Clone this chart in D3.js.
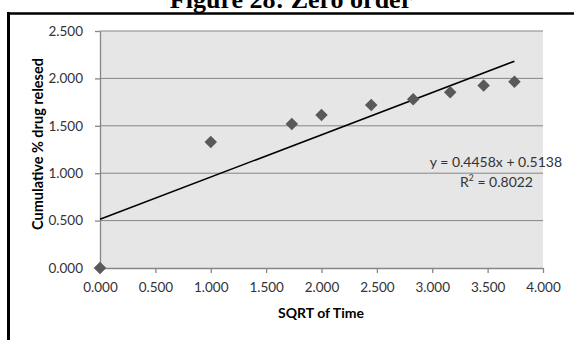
<!DOCTYPE html>
<html>
<head>
<meta charset="utf-8">
<script src="https://cdn.jsdelivr.net/npm/d3@7/dist/d3.min.js"></script>
<style>
  html, body { margin: 0; padding: 0; background: #fff; }
  svg { display: block; }
</style>
</head>
<body>
<svg id="chart" width="574" height="340"></svg>
<script>
// Square root of time (h^0.5) and cumulative % drug released
const sqrtTime = [0, 1, 1.732, 2, 2.449, 2.828, 3.162, 3.464, 3.742];
const released = [0, 1.33, 1.52, 1.614, 1.719, 1.78, 1.853, 1.925, 1.965];
const xTicks = [0, 0.5, 1, 1.5, 2, 2.5, 3, 3.5, 4];
const yTicks = [0, 0.5, 1, 1.5, 2, 2.5];
// Linear trendline as reported
const slope = 0.4458;
const intercept = 0.5138;
const rSquared = 0.8022;

const svg = d3.select("#chart");
const fontSans = "Lato, 'Open Sans', sans-serif";
const textGray = "#333333";
const axisGray = "#868686";

// Caption above the chart box (its top runs past the page edge)
svg.append("text")
  .attr("x", 291).attr("y", 8)
  .attr("text-anchor", "middle")
  .attr("font-family", "'Liberation Serif', 'Times New Roman', serif")
  .attr("font-weight", "bold")
  .attr("font-size", 26)
  .attr("fill", "#000")
  .text("Figure 28: Zero order");

// Chart box edges
svg.append("line").attr("x1", 7).attr("x2", 574).attr("y1", 13.5).attr("y2", 13.5)
  .attr("stroke", "#000").attr("stroke-width", 2.5);
svg.append("line").attr("x1", 8.5).attr("x2", 8.5).attr("y1", 12).attr("y2", 340)
  .attr("stroke", "#000").attr("stroke-width", 3);

const x = d3.scaleLinear().domain([0, 4]).range([100, 543]);
const y = d3.scaleLinear().domain([0, 2.5]).range([268, 31]);

// Plot area
svg.append("rect")
  .attr("x", x(0)).attr("y", y(2.5))
  .attr("width", x(4) - x(0)).attr("height", y(0) - y(2.5))
  .attr("fill", "#e6e6e6");

// Horizontal gridlines
svg.append("g").selectAll("line").data(yTicks.filter(d => d > 0)).join("line")
  .attr("x1", x(0)).attr("x2", x(4))
  .attr("y1", d => y(d)).attr("y2", d => y(d))
  .attr("stroke", axisGray).attr("stroke-width", 1);

// Axes
const xAxis = d3.axisBottom(x).tickValues(xTicks).tickFormat(d3.format(".3f"))
  .tickSizeInner(5).tickSizeOuter(0).tickPadding(8);
const yAxis = d3.axisLeft(y).tickValues(yTicks).tickFormat(d3.format(".3f"))
  .tickSizeInner(5).tickSizeOuter(0).tickPadding(8);

const gx = svg.append("g").attr("transform", `translate(0,${y(0)})`).call(xAxis);
const gy = svg.append("g").attr("transform", `translate(${x(0)},0)`).call(yAxis);
[gx, gy].forEach(g => {
  g.select(".domain").attr("stroke", axisGray).attr("stroke-width", 1.3);
  g.selectAll(".tick line").attr("stroke", axisGray).attr("stroke-width", 1.3);
  g.selectAll(".tick text")
    .attr("font-family", fontSans).attr("font-size", 13.5).attr("fill", textGray);
});
gx.selectAll(".tick text").attr("dy", "0.85em");
gy.selectAll(".tick text").attr("dx", "-4");

// Trendline over the range of the data
const xMax = d3.max(sqrtTime);
svg.append("line")
  .attr("x1", x(0)).attr("y1", y(intercept))
  .attr("x2", x(xMax)).attr("y2", y(slope * xMax + intercept))
  .attr("stroke", "#000").attr("stroke-width", 1.6);

// Diamond markers
const diamond = d3.symbol().type(d3.symbolDiamond2).size(100);
svg.append("g").selectAll("path").data(sqrtTime).join("path")
  .attr("d", diamond)
  .attr("transform", (d, i) => `translate(${x(d)},${y(released[i])})`)
  .attr("fill", "#595959");

// Trendline equation
svg.append("text")
  .attr("x", 562).attr("y", 167).attr("text-anchor", "end")
  .attr("font-family", fontSans).attr("font-size", 14).attr("fill", textGray)
  .text(`y = ${slope}x + ${intercept}`);
const r2 = svg.append("text")
  .attr("x", 533).attr("y", 187).attr("text-anchor", "end")
  .attr("font-family", fontSans).attr("font-size", 14).attr("fill", textGray);
r2.append("tspan").text("R");
r2.append("tspan").attr("font-size", 8.5).attr("dy", -6).text("2");
r2.append("tspan").attr("dy", 6).text(` = ${rSquared}`);

// Axis titles
svg.append("text")
  .attr("x", 321).attr("y", 318)
  .attr("text-anchor", "middle")
  .attr("font-family", fontSans).attr("font-weight", "bold").attr("font-size", 14)
  .attr("fill", "#000")
  .text("SQRT of Time");
svg.append("text")
  .attr("transform", "translate(43,144) rotate(-90)")
  .attr("text-anchor", "middle")
  .attr("font-family", fontSans).attr("font-weight", "bold").attr("font-size", 14.5)
  .attr("fill", "#000")
  .text("Cumulative % drug relesed");
</script>
</body>
</html>
